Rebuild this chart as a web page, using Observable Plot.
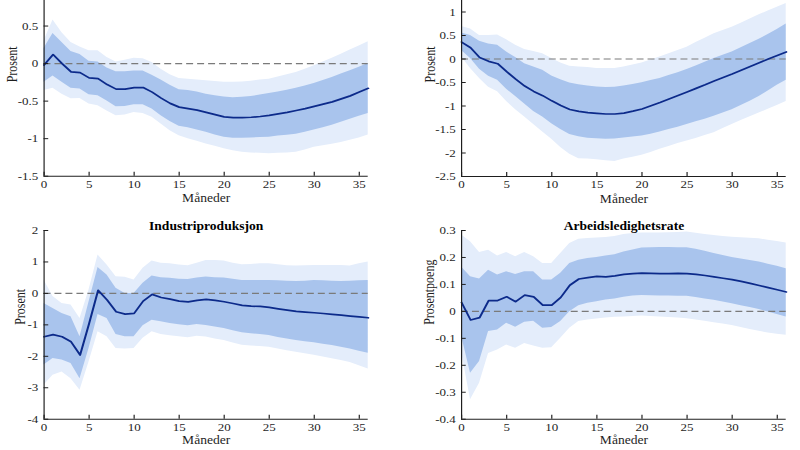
<!DOCTYPE html>
<html>
<head>
<meta charset="utf-8">
<script src="https://cdn.jsdelivr.net/npm/d3@7"></script>
<script src="https://cdn.jsdelivr.net/npm/@observablehq/plot@0.6"></script>
<style>
  html, body { margin: 0; padding: 0; background: #fff; }
  #chart { position: relative; width: 800px; height: 450px; overflow: hidden; background: #fff; }
  #chart svg { position: absolute; }
</style>
</head>
<body>
<div id="chart"></div>
<script>
// Horizon (months after the shock)
const months = [0,1,2,3,4,5,6,7,8,9,10,11,12,13,14,15,16,17,18,19,20,21,22,23,24,25,26,27,28,29,30,31,32,33,34,35,36];
const xTicks = [0,5,10,15,20,25,30,35];

// Top left panel: median response with inner and outer bands
const tlMid  = [-0.02,0.12,0.0,-0.11,-0.12,-0.19,-0.2,-0.28,-0.34,-0.34,-0.32,-0.32,-0.38,-0.46,-0.53,-0.58,-0.6,-0.62,-0.65,-0.68,-0.71,-0.72,-0.72,-0.715,-0.705,-0.69,-0.67,-0.65,-0.625,-0.6,-0.57,-0.54,-0.51,-0.47,-0.43,-0.38,-0.33];
const tlHi68 = [0.2,0.4,0.28,0.16,0.12,0.03,0.02,-0.06,-0.11,-0.11,-0.1,-0.1,-0.155,-0.22,-0.29,-0.35,-0.36,-0.38,-0.41,-0.43,-0.445,-0.455,-0.45,-0.44,-0.42,-0.4,-0.38,-0.355,-0.33,-0.3,-0.265,-0.225,-0.185,-0.14,-0.095,-0.05,0.0];
const tlLo68 = [-0.25,-0.165,-0.25,-0.33,-0.34,-0.415,-0.43,-0.5,-0.575,-0.57,-0.55,-0.55,-0.605,-0.695,-0.77,-0.835,-0.855,-0.885,-0.915,-0.95,-0.98,-0.995,-0.995,-0.99,-0.985,-0.98,-0.965,-0.955,-0.94,-0.915,-0.885,-0.855,-0.82,-0.78,-0.74,-0.7,-0.665];
const tlHi90 = [0.3,0.58,0.41,0.28,0.22,0.17,0.17,0.08,0.02,0.045,0.07,0.065,0.015,-0.075,-0.15,-0.2,-0.21,-0.22,-0.23,-0.24,-0.25,-0.25,-0.245,-0.235,-0.22,-0.21,-0.18,-0.15,-0.12,-0.075,-0.03,0.02,0.07,0.125,0.18,0.235,0.29];
const tlLo90 = [-0.36,-0.33,-0.41,-0.47,-0.465,-0.54,-0.56,-0.63,-0.695,-0.685,-0.65,-0.665,-0.715,-0.805,-0.895,-0.96,-1.0,-1.035,-1.07,-1.1,-1.135,-1.16,-1.18,-1.19,-1.195,-1.2,-1.195,-1.19,-1.18,-1.15,-1.115,-1.095,-1.075,-1.05,-1.02,-0.99,-0.95];
const tlTicks = [-1.5,-1,-0.5,0,0.5];

// Top right panel
const trMid  = [0.36,0.24,0.03,-0.05,-0.1,-0.27,-0.43,-0.575,-0.69,-0.78,-0.89,-0.99,-1.075,-1.115,-1.14,-1.155,-1.17,-1.17,-1.15,-1.11,-1.065,-0.995,-0.925,-0.85,-0.775,-0.7,-0.625,-0.55,-0.47,-0.395,-0.32,-0.24,-0.16,-0.08,0.0,0.075,0.15];
const trHi68 = [0.555,0.5,0.38,0.32,0.29,0.15,0.03,-0.1,-0.17,-0.24,-0.36,-0.44,-0.51,-0.55,-0.575,-0.595,-0.605,-0.6,-0.575,-0.545,-0.505,-0.46,-0.415,-0.35,-0.29,-0.225,-0.15,-0.07,0.01,0.08,0.15,0.24,0.33,0.42,0.52,0.63,0.745];
const trLo68 = [0.18,0.01,-0.22,-0.365,-0.45,-0.645,-0.8,-0.96,-1.115,-1.235,-1.375,-1.5,-1.605,-1.655,-1.685,-1.695,-1.71,-1.7,-1.68,-1.66,-1.64,-1.6,-1.555,-1.5,-1.45,-1.395,-1.335,-1.28,-1.22,-1.15,-1.08,-0.99,-0.9,-0.8,-0.68,-0.56,-0.45];
const trHi90 = [0.69,0.64,0.5,0.5,0.51,0.41,0.29,0.2,0.16,0.11,0.01,-0.085,-0.155,-0.17,-0.18,-0.2,-0.2,-0.2,-0.17,-0.13,-0.085,-0.02,0.04,0.11,0.18,0.25,0.35,0.44,0.535,0.605,0.675,0.76,0.85,0.94,1.02,1.1,1.18];
const trLo90 = [0.04,-0.2,-0.415,-0.6,-0.695,-0.905,-1.08,-1.235,-1.395,-1.555,-1.71,-1.885,-2.025,-2.12,-2.13,-2.145,-2.165,-2.18,-2.13,-2.09,-2.05,-1.99,-1.92,-1.86,-1.8,-1.745,-1.69,-1.63,-1.57,-1.48,-1.395,-1.31,-1.23,-1.15,-1.07,-0.99,-0.905];
const trTicks = [-2.5,-2,-1.5,-1,-0.5,0,0.5,1];

// Industriproduksjon
const ipMid  = [-1.38,-1.31,-1.38,-1.54,-1.96,-0.955,0.1,-0.21,-0.585,-0.66,-0.635,-0.245,-0.03,-0.13,-0.18,-0.245,-0.27,-0.22,-0.19,-0.22,-0.265,-0.32,-0.38,-0.405,-0.415,-0.445,-0.49,-0.53,-0.57,-0.595,-0.615,-0.64,-0.665,-0.69,-0.72,-0.745,-0.775];
const ipHi68 = [-0.32,-0.48,-0.64,-0.74,-1.38,-0.27,0.82,0.585,0.16,0.0,0.0,0.32,0.55,0.5,0.48,0.45,0.44,0.49,0.52,0.5,0.49,0.45,0.41,0.41,0.41,0.41,0.4,0.39,0.38,0.39,0.41,0.4,0.39,0.38,0.39,0.4,0.41];
const ipLo68 = [-2.28,-2.07,-2.12,-2.23,-2.71,-1.75,-0.67,-0.8,-1.31,-1.38,-1.38,-1.03,-0.85,-0.9,-0.955,-1.0,-1.03,-0.99,-1.02,-1.07,-1.12,-1.19,-1.25,-1.28,-1.31,-1.34,-1.4,-1.45,-1.5,-1.54,-1.57,-1.62,-1.66,-1.71,-1.77,-1.84,-1.9];
const ipHi90 = [0.425,-0.1,-0.32,-0.37,-0.8,0.105,1.22,0.9,0.53,0.51,0.425,0.8,1.03,0.96,0.94,0.9,0.88,0.96,1.05,1.05,1.03,0.96,0.91,0.92,0.94,0.94,0.91,0.88,0.87,0.88,0.89,0.89,0.89,0.89,0.87,0.94,1.0];
const ipLo90 = [-2.92,-2.6,-2.5,-2.71,-3.08,-2.18,-1.22,-1.38,-1.75,-1.77,-1.75,-1.43,-1.22,-1.31,-1.35,-1.38,-1.41,-1.36,-1.39,-1.45,-1.5,-1.58,-1.65,-1.67,-1.69,-1.71,-1.77,-1.82,-1.87,-1.92,-1.97,-2.02,-2.08,-2.13,-2.2,-2.3,-2.4];
const ipTicks = [-4,-3,-2,-1,0,1,2];

// Arbeidsledighetsrate
const urMid  = [0.033,-0.032,-0.023,0.04,0.04,0.054,0.036,0.06,0.054,0.023,0.023,0.052,0.097,0.12,0.125,0.13,0.128,0.132,0.137,0.14,0.142,0.141,0.14,0.14,0.141,0.14,0.137,0.133,0.128,0.123,0.118,0.111,0.104,0.096,0.088,0.08,0.072];
const urHi68 = [0.165,0.128,0.12,0.153,0.135,0.147,0.137,0.147,0.147,0.116,0.116,0.141,0.178,0.19,0.196,0.2,0.205,0.21,0.22,0.228,0.235,0.236,0.237,0.237,0.236,0.236,0.23,0.223,0.215,0.207,0.2,0.194,0.189,0.183,0.175,0.167,0.158];
const urLo68 = [-0.09,-0.23,-0.186,-0.075,-0.069,-0.044,-0.059,-0.04,-0.037,-0.063,-0.06,-0.038,-0.001,0.021,0.03,0.036,0.042,0.046,0.052,0.057,0.059,0.058,0.057,0.057,0.056,0.056,0.051,0.046,0.041,0.035,0.028,0.021,0.014,0.007,-0.002,-0.012,-0.021];
const urHi90 = [0.283,0.258,0.218,0.227,0.205,0.218,0.203,0.218,0.203,0.178,0.178,0.215,0.252,0.268,0.27,0.272,0.274,0.278,0.285,0.289,0.291,0.291,0.291,0.292,0.293,0.294,0.29,0.285,0.281,0.278,0.275,0.273,0.271,0.269,0.264,0.259,0.254];
const urLo90 = [-0.15,-0.328,-0.267,-0.156,-0.143,-0.125,-0.137,-0.119,-0.128,-0.137,-0.135,-0.1,-0.063,-0.038,-0.032,-0.028,-0.025,-0.022,-0.021,-0.019,-0.017,-0.019,-0.021,-0.023,-0.025,-0.027,-0.032,-0.037,-0.042,-0.047,-0.052,-0.06,-0.067,-0.074,-0.08,-0.085,-0.089];
const urTicks = [-0.4,-0.3,-0.2,-0.1,0,0.1,0.2,0.3];

const OUTER = "#e4edfb";
const INNER = "#a9c4ed";
const LINE = "#0c2a8a";
const INK = "#1e1e1e";
const FONT = "Liberation Serif, Times New Roman, serif";
// Each panel is drawn narrower and stretched sideways, giving the wide serif lettering.
const S = 1.18;

function rows(mid, lo68, hi68, lo90, hi90) {
  return months.map((m, i) => ({m, mid: mid[i], lo68: lo68[i], hi68: hi68[i], lo90: lo90[i], hi90: hi90[i]}));
}

function panel({data, yDomain, yTicks, title, yLabel, left, top, width, height, mLeft, mRight, mTop, mBottom, yLabelX, xLabelDy}) {
  const W = width / S;
  const svg = Plot.plot({
    width: W,
    height,
    marginLeft: mLeft / S,
    marginRight: mRight / S,
    marginTop: mTop,
    marginBottom: mBottom,
    style: {fontFamily: FONT, fontSize: "11px", color: INK, background: "transparent", overflow: "hidden"},
    x: {domain: [0, 36]},
    y: {domain: yDomain},
    marks: [
      Plot.areaY(data, {x: "m", y1: "lo90", y2: "hi90", fill: OUTER}),
      Plot.areaY(data, {x: "m", y1: "lo68", y2: "hi68", fill: INNER}),
      Plot.ruleY([0], {stroke: "#7a7a7a", strokeWidth: 1.2, strokeDasharray: "5.9,3.4"}),
      Plot.lineY(data, {x: "m", y: "mid", stroke: LINE, strokeWidth: 1.7}),
      Plot.ruleX([0], {stroke: INK, strokeWidth: 1}),
      Plot.ruleY([yDomain[0]], {stroke: INK, strokeWidth: 1}),
      Plot.axisX({ticks: xTicks, tickSize: -4, tickPadding: 8, tickFormat: d => String(d), label: null, stroke: INK, fill: INK, fontSize: 11}),
      Plot.axisY({ticks: yTicks, tickSize: -4, tickPadding: 9, tickFormat: d => String(d), label: null, stroke: INK, fill: INK, fontSize: 11}),
      Plot.text(["Måneder"], {frameAnchor: "bottom", dy: xLabelDy, fontSize: 11.5, fill: INK}),
      Plot.text([yLabel], {frameAnchor: "left", rotate: -90, dx: (yLabelX - mLeft) / S, fontSize: 12, fill: INK}),
      title ? Plot.text([title], {frameAnchor: "top", dy: -9, fontSize: 11.5, fontWeight: "bold", fill: "#000"}) : null
    ]
  });
  svg.setAttribute("preserveAspectRatio", "none");
  svg.setAttribute("width", width);
  svg.style.width = width + "px";
  svg.style.height = height + "px";
  svg.style.maxWidth = "none";
  svg.style.left = left + "px";
  svg.style.top = top + "px";
  return svg;
}

const chart = document.getElementById("chart");

chart.appendChild(panel({
  data: rows(tlMid, tlLo68, tlHi68, tlLo90, tlHi90),
  yDomain: [-1.5, 1], yTicks: tlTicks, yLabel: "Prosent",
  left: 0, top: 0, width: 400, height: 225,
  mLeft: 43.5, mRight: 32.3, mTop: -12, mBottom: 49.3, yLabelX: 12, xLabelDy: 26
}));

chart.appendChild(panel({
  data: rows(trMid, trLo68, trHi68, trLo90, trHi90),
  yDomain: [-2.5, 1.5], yTicks: trTicks, yLabel: "Prosent",
  left: 400, top: 0, width: 400, height: 225,
  mLeft: 61, mRight: 14.3, mTop: -12, mBottom: 49, yLabelX: 30, xLabelDy: 26
}));

chart.appendChild(panel({
  data: rows(ipMid, ipLo68, ipHi68, ipLo90, ipHi90),
  yDomain: [-4, 2], yTicks: ipTicks, yLabel: "Prosent", title: "Industriproduksjon",
  left: 0, top: 205, width: 400, height: 245,
  mLeft: 43.5, mRight: 32.3, mTop: 25, mBottom: 31.3, yLabelX: 20, xLabelDy: 24.5
}));

chart.appendChild(panel({
  data: rows(urMid, urLo68, urHi68, urLo90, urHi90),
  yDomain: [-0.4, 0.3], yTicks: urTicks, yLabel: "Prosentpoeng", title: "Arbeidsledighetsrate",
  left: 400, top: 205, width: 400, height: 245,
  mLeft: 61, mRight: 14.3, mTop: 25, mBottom: 31.3, yLabelX: 29, xLabelDy: 24.5
}));
</script>
</body>
</html>
